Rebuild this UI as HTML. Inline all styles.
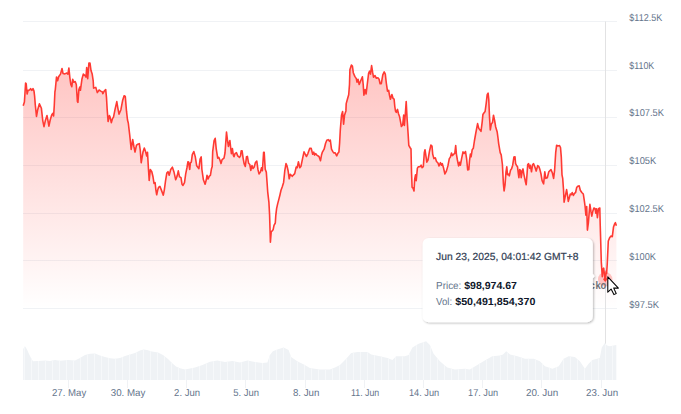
<!DOCTYPE html>
<html><head><meta charset="utf-8"><title>Chart</title>
<style>
html,body{margin:0;padding:0;background:#fff;}
body{width:681px;height:414px;overflow:hidden;font-family:"Liberation Sans",sans-serif;}
svg{display:block;}
text{font-family:"Liberation Sans",sans-serif;text-rendering:geometricPrecision;}
</style></head><body>
<svg width="681" height="414" viewBox="0 0 681 414">
<defs>
<linearGradient id="ag" gradientUnits="userSpaceOnUse" x1="0" y1="63.1" x2="0" y2="308.5">
<stop offset="0" stop-color="#ff3a33" stop-opacity="0.30"/>
<stop offset="1" stop-color="#ff3a33" stop-opacity="0"/>
</linearGradient>
<filter id="sh" x="-10%" y="-15%" width="120%" height="135%">
<feDropShadow dx="1" dy="1" stdDeviation="1.3" flood-color="#000" flood-opacity="0.28"/>
</filter>
</defs>
<rect width="681" height="414" fill="#fff"/>

<line x1="23.0" x2="617.0" y1="21.5" y2="21.5" stroke="#f0f2f5" stroke-width="1"/>
<line x1="23.0" x2="617.0" y1="70.5" y2="70.5" stroke="#f0f2f5" stroke-width="1"/>
<line x1="23.0" x2="617.0" y1="117.5" y2="117.5" stroke="#f0f2f5" stroke-width="1"/>
<line x1="23.0" x2="617.0" y1="165.5" y2="165.5" stroke="#f0f2f5" stroke-width="1"/>
<line x1="23.0" x2="617.0" y1="213.5" y2="213.5" stroke="#f0f2f5" stroke-width="1"/>
<line x1="23.0" x2="617.0" y1="260.5" y2="260.5" stroke="#f0f2f5" stroke-width="1"/>
<line x1="23.0" x2="617.0" y1="308.5" y2="308.5" stroke="#f0f2f5" stroke-width="1"/>
<path d="M23.2 105.8 L24.4 102.1 L25.6 83.0 L26.2 83.7 L27.1 94.0 L28.1 90.3 L29.6 90.0 L30.6 88.6 L31.8 90.3 L33.0 88.6 L34.0 91.1 L34.6 96.0 L35.3 105.0 L36.5 116.4 L37.7 109.7 L39.4 103.8 L41.4 108.3 L42.8 120.8 L44.0 126.7 L45.3 120.8 L47.0 115.6 L48.0 120.8 L48.9 126.2 L50.2 120.0 L51.7 114.9 L52.7 113.4 L53.6 116.0 L54.3 105.3 L54.9 92.0 L55.3 89.6 L56.5 77.1 L57.6 80.8 L58.6 76.8 L60.5 74.1 L62.0 68.5 L63.0 73.4 L64.9 73.9 L66.8 73.0 L67.9 74.1 L68.9 68.0 L69.8 77.1 L70.8 84.5 L71.8 86.7 L72.7 79.3 L73.8 82.2 L75.2 81.5 L76.3 84.5 L77.4 101.4 L77.9 102.4 L78.9 89.6 L79.8 87.1 L80.4 90.3 L81.9 79.3 L83.3 74.1 L85.1 75.6 L86.0 77.1 L86.7 67.5 L87.7 78.6 L88.9 63.1 L90.0 63.1 L91.0 70.5 L92.2 74.1 L93.2 80.8 L93.6 88.1 L95.8 87.4 L97.3 92.6 L99.1 90.0 L100.7 91.1 L102.2 91.8 L102.9 93.6 L104.2 91.1 L105.7 89.6 L106.5 97.7 L107.2 109.7 L108.1 121.5 L109.4 115.6 L110.1 117.1 L111.3 122.7 L112.5 118.6 L113.5 117.1 L115.0 109.7 L116.8 101.6 L117.9 108.3 L119.0 114.1 L120.9 109.7 L122.7 100.2 L124.1 95.7 L125.3 96.5 L126.5 111.2 L127.5 120.0 L128.3 123.0 L129.7 134.8 L131.2 149.5 L132.7 139.6 L133.9 146.5 L135.0 152.0 L136.5 145.1 L137.8 144.3 L139.3 143.6 L140.3 150.5 L141.2 162.8 L143.0 152.0 L144.3 148.0 L145.7 152.0 L146.7 156.0 L147.5 152.3 L148.4 168.0 L149.2 180.5 L150.3 169.5 L151.8 171.7 L153.0 176.8 L154.0 183.4 L155.1 182.7 L155.9 190.1 L156.7 194.8 L157.7 190.1 L158.7 187.1 L159.9 186.4 L161.4 190.1 L163.3 195.2 L164.3 190.1 L165.5 181.2 L166.8 173.1 L168.0 171.7 L169.2 175.3 L170.7 169.5 L172.4 167.2 L173.9 171.7 L175.7 179.8 L177.1 176.1 L178.3 170.9 L179.5 176.8 L181.0 177.6 L182.0 184.2 L183.0 185.4 L184.5 182.7 L185.7 173.9 L186.9 168.0 L187.9 161.8 L188.6 162.1 L189.7 169.5 L190.4 162.8 L191.3 162.1 L192.3 154.7 L193.8 151.5 L195.3 156.9 L196.7 165.8 L198.9 168.7 L200.1 159.1 L201.2 156.9 L201.9 169.5 L203.4 179.8 L205.1 184.2 L206.3 179.8 L207.0 175.3 L208.1 179.0 L209.3 176.1 L210.4 175.3 L211.5 168.7 L212.2 166.5 L212.7 151.5 L213.4 146.0 L214.1 140.5 L215.2 138.3 L216.2 148.6 L217.7 158.1 L218.8 157.4 L220.0 160.3 L221.0 163.6 L222.1 159.6 L224.0 158.1 L225.0 153.0 L226.5 132.1 L227.4 139.7 L228.4 146.4 L229.9 140.5 L230.6 147.1 L231.4 153.7 L232.4 148.6 L233.3 155.2 L234.0 156.7 L235.0 153.7 L236.5 152.7 L237.7 155.9 L239.5 157.4 L240.5 155.9 L241.2 150.8 L242.1 150.8 L243.1 158.1 L244.2 164.0 L245.3 166.5 L246.5 156.7 L247.4 156.4 L248.6 163.3 L249.8 164.5 L250.8 170.4 L252.0 165.5 L253.0 168.4 L254.2 167.0 L255.4 162.6 L256.8 161.1 L257.9 169.2 L259.0 173.9 L260.4 172.1 L261.5 167.7 L262.4 170.7 L263.6 152.2 L264.2 152.2 L265.2 169.2 L266.3 172.1 L267.1 183.0 L267.7 191.8 L268.9 202.1 L269.6 215.3 L270.1 232.0 L270.4 242.3 L271.2 232.0 L273.1 229.8 L274.0 225.3 L275.3 223.0 L275.8 215.3 L276.6 208.7 L277.7 203.6 L278.9 199.1 L280.0 194.7 L281.0 190.3 L282.2 187.0 L283.6 182.4 L284.8 170.7 L286.0 163.6 L286.9 165.5 L288.1 170.7 L289.2 178.8 L290.3 174.3 L292.2 176.3 L294.7 173.6 L296.2 167.0 L297.2 167.7 L298.4 161.8 L299.8 167.7 L301.0 166.2 L302.5 158.9 L304.0 151.8 L305.4 154.5 L306.5 156.5 L307.9 153.6 L309.7 148.4 L311.2 148.4 L312.7 154.3 L313.8 152.1 L314.6 155.1 L315.6 153.6 L316.8 155.1 L319.0 156.5 L320.5 160.7 L321.5 155.1 L322.4 152.1 L324.1 149.2 L325.6 143.3 L326.8 140.3 L328.3 139.6 L329.3 141.1 L330.3 140.0 L331.5 149.2 L332.7 151.4 L333.7 152.9 L335.2 152.9 L336.7 155.8 L337.7 153.6 L338.9 152.1 L339.6 143.3 L340.3 130.0 L341.5 115.3 L342.6 111.6 L343.6 124.1 L344.5 115.3 L345.9 110.9 L346.2 103.6 L347.4 99.2 L348.7 94.8 L349.5 84.5 L349.9 69.7 L351.4 65.0 L352.4 66.0 L353.3 72.7 L354.8 76.4 L356.3 78.6 L357.0 82.2 L358.0 79.3 L359.2 84.5 L360.7 80.8 L362.4 76.8 L363.2 84.5 L363.9 95.1 L365.1 89.6 L366.1 94.0 L367.6 81.5 L368.6 73.4 L369.5 71.2 L370.5 74.1 L371.6 65.6 L372.7 72.7 L373.5 77.1 L375.0 75.6 L376.4 78.3 L377.9 77.8 L379.1 79.3 L380.1 83.7 L381.3 83.7 L382.8 74.9 L384.2 71.9 L385.3 74.1 L386.3 83.0 L387.5 91.1 L388.7 90.3 L389.4 94.8 L390.4 99.2 L391.9 94.5 L393.1 98.4 L394.1 99.2 L394.8 106.5 L395.5 111.0 L396.3 112.4 L397.5 109.4 L398.5 113.8 L399.6 116.8 L400.7 122.7 L401.4 126.5 L402.7 124.8 L403.7 115.0 L404.4 125.5 L405.3 114.5 L406.2 101.5 L407.1 118.9 L408.1 133.6 L408.8 145.3 L410.0 147.5 L411.0 149.0 L411.5 171.8 L412.1 187.3 L413.0 188.0 L414.0 191.0 L414.7 179.2 L415.5 174.8 L416.2 180.7 L417.4 168.1 L418.4 166.7 L419.9 166.7 L421.1 165.2 L422.1 167.7 L423.3 166.7 L424.3 152.7 L425.0 149.7 L426.1 157.1 L426.8 162.2 L428.0 160.0 L429.5 151.2 L430.9 145.0 L432.0 146.0 L432.7 154.1 L433.9 158.6 L435.3 157.8 L436.5 161.5 L438.0 163.0 L439.0 165.9 L440.5 162.7 L441.5 165.2 L442.3 163.7 L443.4 167.4 L444.9 174.0 L446.4 171.1 L447.9 165.9 L449.3 158.6 L450.4 157.1 L451.5 153.0 L452.3 155.6 L453.8 154.1 L454.8 153.4 L455.7 145.6 L456.4 154.1 L457.4 160.0 L458.6 165.9 L459.6 162.2 L460.4 165.2 L461.6 158.6 L463.0 151.9 L464.2 153.4 L465.5 151.5 L466.6 158.6 L467.7 170.0 L468.8 169.6 L469.5 160.8 L470.4 154.1 L471.1 156.8 L472.2 149.7 L473.3 148.3 L474.4 141.0 L475.8 133.0 L477.6 123.6 L478.8 128.4 L481.0 131.4 L482.2 121.8 L482.9 114.5 L483.9 113.0 L485.1 111.5 L486.2 103.4 L487.2 94.6 L488.1 93.1 L488.8 99.7 L489.5 116.7 L490.3 129.9 L491.3 124.0 L492.5 122.6 L493.5 115.2 L494.6 120.3 L495.7 127.0 L497.2 132.1 L498.0 138.0 L498.7 143.8 L500.2 152.7 L501.2 154.9 L502.4 164.5 L503.4 183.6 L504.1 191.0 L505.0 185.1 L506.0 171.8 L506.8 166.7 L507.5 174.8 L508.3 174.0 L509.3 175.9 L510.5 170.3 L511.5 168.9 L512.7 165.2 L513.9 157.1 L515.0 156.8 L515.6 163.7 L516.4 165.2 L517.5 166.7 L518.3 173.3 L518.9 177.7 L519.7 169.6 L520.5 170.3 L521.2 177.7 L522.2 171.1 L523.0 168.9 L523.7 173.3 L525.2 180.7 L526.2 184.8 L527.1 173.3 L527.7 164.5 L528.6 163.7 L529.6 168.1 L530.3 165.2 L531.5 171.8 L532.6 164.5 L533.6 163.7 L534.8 166.7 L536.2 171.1 L537.7 165.6 L538.9 166.7 L539.9 169.6 L541.0 174.0 L542.1 180.7 L543.6 183.9 L544.8 171.8 L545.8 178.4 L547.3 177.7 L548.8 171.8 L551.0 169.6 L552.4 173.0 L553.6 178.4 L554.6 170.3 L555.7 152.7 L556.6 145.3 L558.0 146.0 L559.5 145.6 L560.5 147.5 L561.3 157.1 L562.0 174.8 L562.7 178.4 L563.5 189.5 L564.1 202.1 L565.3 196.2 L566.6 189.6 L567.4 194.7 L568.3 201.4 L569.3 197.7 L570.3 194.0 L571.5 194.7 L572.2 192.5 L573.4 195.5 L574.5 193.3 L575.6 192.5 L576.7 187.4 L577.7 186.2 L579.2 185.9 L580.3 190.3 L581.8 192.5 L583.3 194.0 L584.3 200.6 L585.1 206.5 L585.9 215.3 L586.7 206.5 L587.4 230.1 L588.4 222.7 L589.2 212.4 L589.9 204.3 L591.0 211.7 L591.8 216.1 L592.9 210.9 L593.9 208.0 L595.1 208.7 L595.8 213.1 L596.5 208.7 L597.4 217.6 L598.5 208.7 L599.8 208.0 L600.2 224.2 L600.7 241.0 L601.3 262.1 L602.3 276.6 L603.1 269.3 L603.7 268.1 L604.5 275.0 L605.3 281.0 L606.2 271.0 L606.6 273.5 L607.2 264.5 L607.9 250.0 L608.3 241.0 L609.8 237.4 L611.0 236.0 L612.3 236.7 L613.5 227.1 L614.5 224.2 L615.4 222.7 L616.4 225.7 L616.4 308.5 L23.2 308.5 Z" fill="url(#ag)" stroke="none"/>
<line x1="605.5" x2="605.5" y1="21.5" y2="380.0" stroke="#e2e2e3" stroke-width="1"/>
<path d="M23.2 349.0 L25.0 346.2 L27.0 349.5 L29.0 354.0 L31.0 358.0 L33.0 361.2 L38.0 361.0 L45.0 360.5 L50.0 361.0 L55.0 360.0 L60.0 360.8 L68.0 360.0 L75.0 360.5 L80.0 358.0 L85.0 355.0 L90.0 353.7 L95.0 353.5 L100.0 355.5 L105.0 357.0 L110.0 358.2 L115.0 358.7 L120.0 358.0 L125.0 356.0 L130.0 354.5 L135.0 353.0 L140.0 350.5 L143.6 349.5 L147.0 350.0 L152.0 351.5 L158.0 352.5 L163.0 355.0 L168.0 359.0 L172.0 363.0 L176.0 366.5 L180.0 368.3 L185.0 369.4 L190.0 368.6 L195.0 367.4 L202.5 365.0 L210.0 361.7 L217.4 360.5 L225.0 362.0 L232.4 361.0 L240.0 362.5 L247.4 360.5 L255.0 362.0 L262.4 363.0 L267.4 362.5 L269.9 355.0 L272.9 351.2 L277.3 349.5 L283.6 347.5 L288.6 350.0 L291.1 357.0 L297.3 361.2 L304.8 365.0 L309.8 368.0 L319.8 369.4 L329.8 369.4 L335.0 367.4 L340.0 365.0 L346.2 358.7 L351.2 353.0 L357.5 352.0 L367.5 352.0 L371.2 354.5 L380.0 356.2 L387.4 358.0 L392.4 360.0 L396.2 356.2 L404.9 356.2 L408.6 355.0 L412.4 347.5 L418.6 343.7 L426.1 341.2 L429.9 345.0 L433.6 353.7 L439.9 361.2 L447.3 367.4 L454.8 369.4 L464.8 368.7 L469.8 369.4 L477.3 365.0 L484.8 360.5 L492.3 356.2 L499.8 355.5 L503.0 354.5 L506.2 351.2 L510.0 354.5 L517.5 356.2 L525.0 358.7 L533.7 358.7 L539.9 361.2 L544.9 366.2 L552.4 368.7 L558.7 366.2 L563.6 358.7 L568.6 356.2 L574.9 357.0 L579.9 361.2 L584.9 368.7 L588.6 363.7 L592.4 360.0 L599.8 358.0 L601.8 347.5 L604.8 343.0 L607.0 345.5 L609.8 346.2 L613.6 345.5 L616.3 345.0 L616.3 380.0 L23.2 380.0 Z" fill="#eff2f5" stroke="none"/>
<clipPath id="vc"><path d="M23.2 349.0 L25.0 346.2 L27.0 349.5 L29.0 354.0 L31.0 358.0 L33.0 361.2 L38.0 361.0 L45.0 360.5 L50.0 361.0 L55.0 360.0 L60.0 360.8 L68.0 360.0 L75.0 360.5 L80.0 358.0 L85.0 355.0 L90.0 353.7 L95.0 353.5 L100.0 355.5 L105.0 357.0 L110.0 358.2 L115.0 358.7 L120.0 358.0 L125.0 356.0 L130.0 354.5 L135.0 353.0 L140.0 350.5 L143.6 349.5 L147.0 350.0 L152.0 351.5 L158.0 352.5 L163.0 355.0 L168.0 359.0 L172.0 363.0 L176.0 366.5 L180.0 368.3 L185.0 369.4 L190.0 368.6 L195.0 367.4 L202.5 365.0 L210.0 361.7 L217.4 360.5 L225.0 362.0 L232.4 361.0 L240.0 362.5 L247.4 360.5 L255.0 362.0 L262.4 363.0 L267.4 362.5 L269.9 355.0 L272.9 351.2 L277.3 349.5 L283.6 347.5 L288.6 350.0 L291.1 357.0 L297.3 361.2 L304.8 365.0 L309.8 368.0 L319.8 369.4 L329.8 369.4 L335.0 367.4 L340.0 365.0 L346.2 358.7 L351.2 353.0 L357.5 352.0 L367.5 352.0 L371.2 354.5 L380.0 356.2 L387.4 358.0 L392.4 360.0 L396.2 356.2 L404.9 356.2 L408.6 355.0 L412.4 347.5 L418.6 343.7 L426.1 341.2 L429.9 345.0 L433.6 353.7 L439.9 361.2 L447.3 367.4 L454.8 369.4 L464.8 368.7 L469.8 369.4 L477.3 365.0 L484.8 360.5 L492.3 356.2 L499.8 355.5 L503.0 354.5 L506.2 351.2 L510.0 354.5 L517.5 356.2 L525.0 358.7 L533.7 358.7 L539.9 361.2 L544.9 366.2 L552.4 368.7 L558.7 366.2 L563.6 358.7 L568.6 356.2 L574.9 357.0 L579.9 361.2 L584.9 368.7 L588.6 363.7 L592.4 360.0 L599.8 358.0 L601.8 347.5 L604.8 343.0 L607.0 345.5 L609.8 346.2 L613.6 345.5 L616.3 345.0 L616.3 380.0 L23.2 380.0 Z"/></clipPath>
<path d="M24.5 341V380.0 M31.5 341V380.0 M38.5 341V380.0 M45.5 341V380.0 M52.5 341V380.0 M59.5 341V380.0 M66.5 341V380.0 M73.5 341V380.0 M80.5 341V380.0 M87.5 341V380.0 M94.5 341V380.0 M101.5 341V380.0 M108.5 341V380.0 M115.5 341V380.0 M122.5 341V380.0 M129.5 341V380.0 M136.5 341V380.0 M143.5 341V380.0 M150.5 341V380.0 M157.5 341V380.0 M164.5 341V380.0 M171.5 341V380.0 M178.5 341V380.0 M185.5 341V380.0 M192.5 341V380.0 M199.5 341V380.0 M206.5 341V380.0 M213.5 341V380.0 M220.5 341V380.0 M227.5 341V380.0 M234.5 341V380.0 M241.5 341V380.0 M248.5 341V380.0 M255.5 341V380.0 M262.5 341V380.0 M269.5 341V380.0 M276.5 341V380.0 M283.5 341V380.0 M290.5 341V380.0 M297.5 341V380.0 M304.5 341V380.0 M311.5 341V380.0 M318.5 341V380.0 M325.5 341V380.0 M332.5 341V380.0 M339.5 341V380.0 M346.5 341V380.0 M353.5 341V380.0 M360.5 341V380.0 M367.5 341V380.0 M374.5 341V380.0 M381.5 341V380.0 M388.5 341V380.0 M395.5 341V380.0 M402.5 341V380.0 M409.5 341V380.0 M416.5 341V380.0 M423.5 341V380.0 M430.5 341V380.0 M437.5 341V380.0 M444.5 341V380.0 M451.5 341V380.0 M458.5 341V380.0 M465.5 341V380.0 M472.5 341V380.0 M479.5 341V380.0 M486.5 341V380.0 M493.5 341V380.0 M500.5 341V380.0 M507.5 341V380.0 M514.5 341V380.0 M521.5 341V380.0 M528.5 341V380.0 M535.5 341V380.0 M542.5 341V380.0 M549.5 341V380.0 M556.5 341V380.0 M563.5 341V380.0 M570.5 341V380.0 M577.5 341V380.0 M584.5 341V380.0 M591.5 341V380.0 M598.5 341V380.0 M605.5 341V380.0 M612.5 341V380.0" stroke="#f6f8fa" stroke-width="1" clip-path="url(#vc)" fill="none"/>
<line x1="68.5" x2="68.5" y1="380.0" y2="388.0" stroke="#f0f2f5" stroke-width="1"/>
<line x1="127.5" x2="127.5" y1="380.0" y2="388.0" stroke="#f0f2f5" stroke-width="1"/>
<line x1="186.5" x2="186.5" y1="380.0" y2="388.0" stroke="#f0f2f5" stroke-width="1"/>
<line x1="245.5" x2="245.5" y1="380.0" y2="388.0" stroke="#f0f2f5" stroke-width="1"/>
<line x1="305.5" x2="305.5" y1="380.0" y2="388.0" stroke="#f0f2f5" stroke-width="1"/>
<line x1="364.5" x2="364.5" y1="380.0" y2="388.0" stroke="#f0f2f5" stroke-width="1"/>
<line x1="423.5" x2="423.5" y1="380.0" y2="388.0" stroke="#f0f2f5" stroke-width="1"/>
<line x1="482.5" x2="482.5" y1="380.0" y2="388.0" stroke="#f0f2f5" stroke-width="1"/>
<line x1="541.5" x2="541.5" y1="380.0" y2="388.0" stroke="#f0f2f5" stroke-width="1"/>
<line x1="601.5" x2="601.5" y1="380.0" y2="388.0" stroke="#f0f2f5" stroke-width="1"/>
<path d="M23.2 105.8 L24.4 102.1 L25.6 83.0 L26.2 83.7 L27.1 94.0 L28.1 90.3 L29.6 90.0 L30.6 88.6 L31.8 90.3 L33.0 88.6 L34.0 91.1 L34.6 96.0 L35.3 105.0 L36.5 116.4 L37.7 109.7 L39.4 103.8 L41.4 108.3 L42.8 120.8 L44.0 126.7 L45.3 120.8 L47.0 115.6 L48.0 120.8 L48.9 126.2 L50.2 120.0 L51.7 114.9 L52.7 113.4 L53.6 116.0 L54.3 105.3 L54.9 92.0 L55.3 89.6 L56.5 77.1 L57.6 80.8 L58.6 76.8 L60.5 74.1 L62.0 68.5 L63.0 73.4 L64.9 73.9 L66.8 73.0 L67.9 74.1 L68.9 68.0 L69.8 77.1 L70.8 84.5 L71.8 86.7 L72.7 79.3 L73.8 82.2 L75.2 81.5 L76.3 84.5 L77.4 101.4 L77.9 102.4 L78.9 89.6 L79.8 87.1 L80.4 90.3 L81.9 79.3 L83.3 74.1 L85.1 75.6 L86.0 77.1 L86.7 67.5 L87.7 78.6 L88.9 63.1 L90.0 63.1 L91.0 70.5 L92.2 74.1 L93.2 80.8 L93.6 88.1 L95.8 87.4 L97.3 92.6 L99.1 90.0 L100.7 91.1 L102.2 91.8 L102.9 93.6 L104.2 91.1 L105.7 89.6 L106.5 97.7 L107.2 109.7 L108.1 121.5 L109.4 115.6 L110.1 117.1 L111.3 122.7 L112.5 118.6 L113.5 117.1 L115.0 109.7 L116.8 101.6 L117.9 108.3 L119.0 114.1 L120.9 109.7 L122.7 100.2 L124.1 95.7 L125.3 96.5 L126.5 111.2 L127.5 120.0 L128.3 123.0 L129.7 134.8 L131.2 149.5 L132.7 139.6 L133.9 146.5 L135.0 152.0 L136.5 145.1 L137.8 144.3 L139.3 143.6 L140.3 150.5 L141.2 162.8 L143.0 152.0 L144.3 148.0 L145.7 152.0 L146.7 156.0 L147.5 152.3 L148.4 168.0 L149.2 180.5 L150.3 169.5 L151.8 171.7 L153.0 176.8 L154.0 183.4 L155.1 182.7 L155.9 190.1 L156.7 194.8 L157.7 190.1 L158.7 187.1 L159.9 186.4 L161.4 190.1 L163.3 195.2 L164.3 190.1 L165.5 181.2 L166.8 173.1 L168.0 171.7 L169.2 175.3 L170.7 169.5 L172.4 167.2 L173.9 171.7 L175.7 179.8 L177.1 176.1 L178.3 170.9 L179.5 176.8 L181.0 177.6 L182.0 184.2 L183.0 185.4 L184.5 182.7 L185.7 173.9 L186.9 168.0 L187.9 161.8 L188.6 162.1 L189.7 169.5 L190.4 162.8 L191.3 162.1 L192.3 154.7 L193.8 151.5 L195.3 156.9 L196.7 165.8 L198.9 168.7 L200.1 159.1 L201.2 156.9 L201.9 169.5 L203.4 179.8 L205.1 184.2 L206.3 179.8 L207.0 175.3 L208.1 179.0 L209.3 176.1 L210.4 175.3 L211.5 168.7 L212.2 166.5 L212.7 151.5 L213.4 146.0 L214.1 140.5 L215.2 138.3 L216.2 148.6 L217.7 158.1 L218.8 157.4 L220.0 160.3 L221.0 163.6 L222.1 159.6 L224.0 158.1 L225.0 153.0 L226.5 132.1 L227.4 139.7 L228.4 146.4 L229.9 140.5 L230.6 147.1 L231.4 153.7 L232.4 148.6 L233.3 155.2 L234.0 156.7 L235.0 153.7 L236.5 152.7 L237.7 155.9 L239.5 157.4 L240.5 155.9 L241.2 150.8 L242.1 150.8 L243.1 158.1 L244.2 164.0 L245.3 166.5 L246.5 156.7 L247.4 156.4 L248.6 163.3 L249.8 164.5 L250.8 170.4 L252.0 165.5 L253.0 168.4 L254.2 167.0 L255.4 162.6 L256.8 161.1 L257.9 169.2 L259.0 173.9 L260.4 172.1 L261.5 167.7 L262.4 170.7 L263.6 152.2 L264.2 152.2 L265.2 169.2 L266.3 172.1 L267.1 183.0 L267.7 191.8 L268.9 202.1 L269.6 215.3 L270.1 232.0 L270.4 242.3 L271.2 232.0 L273.1 229.8 L274.0 225.3 L275.3 223.0 L275.8 215.3 L276.6 208.7 L277.7 203.6 L278.9 199.1 L280.0 194.7 L281.0 190.3 L282.2 187.0 L283.6 182.4 L284.8 170.7 L286.0 163.6 L286.9 165.5 L288.1 170.7 L289.2 178.8 L290.3 174.3 L292.2 176.3 L294.7 173.6 L296.2 167.0 L297.2 167.7 L298.4 161.8 L299.8 167.7 L301.0 166.2 L302.5 158.9 L304.0 151.8 L305.4 154.5 L306.5 156.5 L307.9 153.6 L309.7 148.4 L311.2 148.4 L312.7 154.3 L313.8 152.1 L314.6 155.1 L315.6 153.6 L316.8 155.1 L319.0 156.5 L320.5 160.7 L321.5 155.1 L322.4 152.1 L324.1 149.2 L325.6 143.3 L326.8 140.3 L328.3 139.6 L329.3 141.1 L330.3 140.0 L331.5 149.2 L332.7 151.4 L333.7 152.9 L335.2 152.9 L336.7 155.8 L337.7 153.6 L338.9 152.1 L339.6 143.3 L340.3 130.0 L341.5 115.3 L342.6 111.6 L343.6 124.1 L344.5 115.3 L345.9 110.9 L346.2 103.6 L347.4 99.2 L348.7 94.8 L349.5 84.5 L349.9 69.7 L351.4 65.0 L352.4 66.0 L353.3 72.7 L354.8 76.4 L356.3 78.6 L357.0 82.2 L358.0 79.3 L359.2 84.5 L360.7 80.8 L362.4 76.8 L363.2 84.5 L363.9 95.1 L365.1 89.6 L366.1 94.0 L367.6 81.5 L368.6 73.4 L369.5 71.2 L370.5 74.1 L371.6 65.6 L372.7 72.7 L373.5 77.1 L375.0 75.6 L376.4 78.3 L377.9 77.8 L379.1 79.3 L380.1 83.7 L381.3 83.7 L382.8 74.9 L384.2 71.9 L385.3 74.1 L386.3 83.0 L387.5 91.1 L388.7 90.3 L389.4 94.8 L390.4 99.2 L391.9 94.5 L393.1 98.4 L394.1 99.2 L394.8 106.5 L395.5 111.0 L396.3 112.4 L397.5 109.4 L398.5 113.8 L399.6 116.8 L400.7 122.7 L401.4 126.5 L402.7 124.8 L403.7 115.0 L404.4 125.5 L405.3 114.5 L406.2 101.5 L407.1 118.9 L408.1 133.6 L408.8 145.3 L410.0 147.5 L411.0 149.0 L411.5 171.8 L412.1 187.3 L413.0 188.0 L414.0 191.0 L414.7 179.2 L415.5 174.8 L416.2 180.7 L417.4 168.1 L418.4 166.7 L419.9 166.7 L421.1 165.2 L422.1 167.7 L423.3 166.7 L424.3 152.7 L425.0 149.7 L426.1 157.1 L426.8 162.2 L428.0 160.0 L429.5 151.2 L430.9 145.0 L432.0 146.0 L432.7 154.1 L433.9 158.6 L435.3 157.8 L436.5 161.5 L438.0 163.0 L439.0 165.9 L440.5 162.7 L441.5 165.2 L442.3 163.7 L443.4 167.4 L444.9 174.0 L446.4 171.1 L447.9 165.9 L449.3 158.6 L450.4 157.1 L451.5 153.0 L452.3 155.6 L453.8 154.1 L454.8 153.4 L455.7 145.6 L456.4 154.1 L457.4 160.0 L458.6 165.9 L459.6 162.2 L460.4 165.2 L461.6 158.6 L463.0 151.9 L464.2 153.4 L465.5 151.5 L466.6 158.6 L467.7 170.0 L468.8 169.6 L469.5 160.8 L470.4 154.1 L471.1 156.8 L472.2 149.7 L473.3 148.3 L474.4 141.0 L475.8 133.0 L477.6 123.6 L478.8 128.4 L481.0 131.4 L482.2 121.8 L482.9 114.5 L483.9 113.0 L485.1 111.5 L486.2 103.4 L487.2 94.6 L488.1 93.1 L488.8 99.7 L489.5 116.7 L490.3 129.9 L491.3 124.0 L492.5 122.6 L493.5 115.2 L494.6 120.3 L495.7 127.0 L497.2 132.1 L498.0 138.0 L498.7 143.8 L500.2 152.7 L501.2 154.9 L502.4 164.5 L503.4 183.6 L504.1 191.0 L505.0 185.1 L506.0 171.8 L506.8 166.7 L507.5 174.8 L508.3 174.0 L509.3 175.9 L510.5 170.3 L511.5 168.9 L512.7 165.2 L513.9 157.1 L515.0 156.8 L515.6 163.7 L516.4 165.2 L517.5 166.7 L518.3 173.3 L518.9 177.7 L519.7 169.6 L520.5 170.3 L521.2 177.7 L522.2 171.1 L523.0 168.9 L523.7 173.3 L525.2 180.7 L526.2 184.8 L527.1 173.3 L527.7 164.5 L528.6 163.7 L529.6 168.1 L530.3 165.2 L531.5 171.8 L532.6 164.5 L533.6 163.7 L534.8 166.7 L536.2 171.1 L537.7 165.6 L538.9 166.7 L539.9 169.6 L541.0 174.0 L542.1 180.7 L543.6 183.9 L544.8 171.8 L545.8 178.4 L547.3 177.7 L548.8 171.8 L551.0 169.6 L552.4 173.0 L553.6 178.4 L554.6 170.3 L555.7 152.7 L556.6 145.3 L558.0 146.0 L559.5 145.6 L560.5 147.5 L561.3 157.1 L562.0 174.8 L562.7 178.4 L563.5 189.5 L564.1 202.1 L565.3 196.2 L566.6 189.6 L567.4 194.7 L568.3 201.4 L569.3 197.7 L570.3 194.0 L571.5 194.7 L572.2 192.5 L573.4 195.5 L574.5 193.3 L575.6 192.5 L576.7 187.4 L577.7 186.2 L579.2 185.9 L580.3 190.3 L581.8 192.5 L583.3 194.0 L584.3 200.6 L585.1 206.5 L585.9 215.3 L586.7 206.5 L587.4 230.1 L588.4 222.7 L589.2 212.4 L589.9 204.3 L591.0 211.7 L591.8 216.1 L592.9 210.9 L593.9 208.0 L595.1 208.7 L595.8 213.1 L596.5 208.7 L597.4 217.6 L598.5 208.7 L599.8 208.0 L600.2 224.2 L600.7 241.0 L601.3 262.1 L602.3 276.6 L603.1 269.3 L603.7 268.1 L604.5 275.0 L605.3 281.0 L606.2 271.0 L606.6 273.5 L607.2 264.5 L607.9 250.0 L608.3 241.0 L609.8 237.4 L611.0 236.0 L612.3 236.7 L613.5 227.1 L614.5 224.2 L615.4 222.7 L616.4 225.7" fill="none" stroke="#ff3a33" stroke-width="1.6" stroke-linejoin="round" stroke-linecap="butt"/>
<text x="629.3" y="20.7" font-size="10" fill="#64748b" textLength="32.9" lengthAdjust="spacingAndGlyphs">$112.5K</text>
<text x="629.3" y="68.8" font-size="10" fill="#64748b" textLength="25.0" lengthAdjust="spacingAndGlyphs">$110K</text>
<text x="629.3" y="116.0" font-size="10" fill="#64748b" textLength="34.7" lengthAdjust="spacingAndGlyphs">$107.5K</text>
<text x="629.3" y="164.0" font-size="10" fill="#64748b" textLength="27.0" lengthAdjust="spacingAndGlyphs">$105K</text>
<text x="629.3" y="212.0" font-size="10" fill="#64748b" textLength="34.6" lengthAdjust="spacingAndGlyphs">$102.5K</text>
<text x="629.3" y="259.7" font-size="10" fill="#64748b" textLength="26.7" lengthAdjust="spacingAndGlyphs">$100K</text>
<text x="629.3" y="307.6" font-size="10" fill="#64748b" textLength="29.8" lengthAdjust="spacingAndGlyphs">$97.5K</text>
<text x="52.0" y="396.1" font-size="10" fill="#64748b" textLength="34.2" lengthAdjust="spacingAndGlyphs">27. May</text>
<text x="110.8" y="396.1" font-size="10" fill="#64748b" textLength="34.6" lengthAdjust="spacingAndGlyphs">30. May</text>
<text x="174.1" y="396.1" font-size="10" fill="#64748b" textLength="26.0" lengthAdjust="spacingAndGlyphs">2. Jun</text>
<text x="233.2" y="396.1" font-size="10" fill="#64748b" textLength="25.8" lengthAdjust="spacingAndGlyphs">5. Jun</text>
<text x="292.9" y="396.1" font-size="10" fill="#64748b" textLength="26.5" lengthAdjust="spacingAndGlyphs">8. Jun</text>
<text x="351.0" y="396.1" font-size="10" fill="#64748b" textLength="28.2" lengthAdjust="spacingAndGlyphs">11. Jun</text>
<text x="409.0" y="396.1" font-size="10" fill="#64748b" textLength="30.2" lengthAdjust="spacingAndGlyphs">14. Jun</text>
<text x="468.1" y="396.1" font-size="10" fill="#64748b" textLength="30.0" lengthAdjust="spacingAndGlyphs">17. Jun</text>
<text x="525.9" y="396.1" font-size="10" fill="#64748b" textLength="32.4" lengthAdjust="spacingAndGlyphs">20. Jun</text>
<text x="586.1" y="396.1" font-size="10" fill="#64748b" textLength="32.0" lengthAdjust="spacingAndGlyphs">23. Jun</text>
<circle cx="605.2" cy="279.3" r="7.2" fill="#ff3a33" fill-opacity="0.28"/>
<circle cx="605.2" cy="279.3" r="1.8" fill="#ff3a33"/>
<text x="588.8" y="288.9" font-size="11" font-weight="bold" fill="#6f7175">c</text>
<text x="595.4" y="288.9" font-size="11" font-weight="bold" fill="#6f7175" textLength="10.9" lengthAdjust="spacingAndGlyphs">ko</text>
<g filter="url(#sh)">
<path d="M428.6 238H586.8a6 6 0 0 1 6 6V274l1.8 2.2-1.8 2.2V316.2a6 6 0 0 1-6 6H428.6a6 6 0 0 1-6-6V244a6 6 0 0 1 6-6Z" fill="#ffffff"/>
</g>
<text x="436.1" y="260" font-size="10.3" fill="#334155" stroke="#334155" stroke-width="0.22" textLength="142.4" lengthAdjust="spacingAndGlyphs">Jun 23, 2025, 04:01:42 GMT+8</text>
<text x="436.1" y="288.7" font-size="10.3" fill="#64748b" textLength="25.2" lengthAdjust="spacingAndGlyphs">Price:</text>
<text x="464.2" y="288.7" font-size="10.3" font-weight="bold" fill="#0f172a" textLength="52.8" lengthAdjust="spacingAndGlyphs">$98,974.67</text>
<text x="436.1" y="304.8" font-size="10.3" fill="#64748b" textLength="16.1" lengthAdjust="spacingAndGlyphs">Vol:</text>
<text x="455.2" y="304.8" font-size="10.3" font-weight="bold" fill="#0f172a" textLength="80.2" lengthAdjust="spacingAndGlyphs">$50,491,854,370</text>
<g transform="translate(607.5 276.2)">
<path d="M0.3 0.6V16L3.6 12.9L6.4 18.4L8.7 17.3L6.2 11.9H10.9Z" fill="#fff" stroke="#000" stroke-width="1.05" stroke-linejoin="round"/>
</g>
</svg></body></html>
